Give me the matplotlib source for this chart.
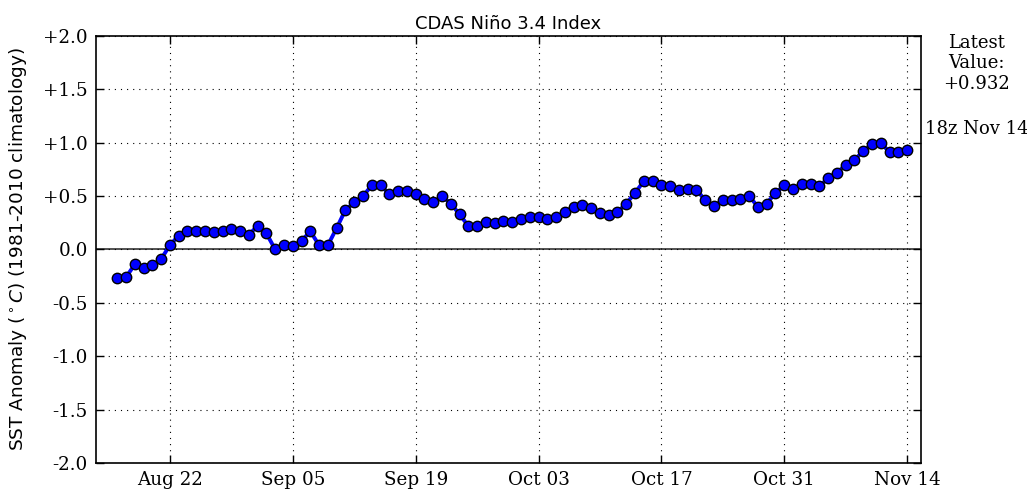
import matplotlib
matplotlib.use('Agg')
import matplotlib.pyplot as plt
import matplotlib.dates as mdates
import matplotlib.ticker as mticker
import pandas as pd

# daily CDAS Nino 3.4 SST anomaly, Aug 16 - Nov 14
dates = pd.date_range('2014-08-16', '2014-11-14', freq='D')
anom = [-0.27, -0.26, -0.14, -0.17, -0.15, -0.09, 0.04, 0.13, 0.17, 0.17,
        0.17, 0.16, 0.17, 0.19, 0.17, 0.14, 0.22, 0.15, 0.00, 0.04,
        0.03, 0.08, 0.17, 0.04, 0.04, 0.20, 0.37, 0.44, 0.50, 0.60,
        0.60, 0.52, 0.55, 0.55, 0.52, 0.47, 0.44, 0.50, 0.43, 0.33,
        0.22, 0.22, 0.26, 0.25, 0.27, 0.26, 0.29, 0.30, 0.30, 0.29,
        0.30, 0.35, 0.40, 0.42, 0.39, 0.34, 0.32, 0.35, 0.43, 0.53,
        0.64, 0.64, 0.60, 0.59, 0.56, 0.57, 0.56, 0.46, 0.41, 0.46,
        0.46, 0.47, 0.50, 0.40, 0.43, 0.53, 0.60, 0.57, 0.61, 0.61,
        0.59, 0.67, 0.72, 0.79, 0.84, 0.92, 0.99, 1.00, 0.91, 0.91,
        0.932]
xticks = pd.to_datetime(['2014-08-22', '2014-09-05', '2014-09-19', '2014-10-03',
                         '2014-10-17', '2014-10-31', '2014-11-14'])
yticks = [-2.0, -1.5, -1.0, -0.5, 0.0, 0.5, 1.0, 1.5, 2.0]

fig = plt.figure(figsize=(10.27, 4.93), dpi=100)
ax = fig.add_axes([0.0935, 0.061, 0.8033, 0.866])

ax.axhline(0, color='#333333', lw=1.2, zorder=1)
ax.plot(dates, anom, '-', color='blue', lw=2.8, marker='o', markersize=7.5,
        markerfacecolor='blue', markeredgecolor='black', markeredgewidth=1,
        zorder=3)

ax.set_xlim(pd.Timestamp('2014-08-13 14:00'), pd.Timestamp('2014-11-15 14:00'))
ax.set_ylim(-2, 2)
ax.set_xticks(xticks)
ax.xaxis.set_major_formatter(mdates.DateFormatter('%b %d'))
ax.set_yticks(yticks)
ax.yaxis.set_major_formatter(mticker.FuncFormatter(
    lambda v, p: ('+%.1f' % v) if v > 0 else ('%.1f' % v).replace('\u2212', '-')))

ax.grid(True, color='black', linestyle=(0, (1, 4.5)), lw=0.8)
ax.tick_params(direction='in', top=True, right=True, length=6, width=1,
               labelsize=13.2, pad=6)
for lab in ax.get_xticklabels() + ax.get_yticklabels():
    lab.set_family('DejaVu Serif')
for s in ax.spines.values():
    s.set_linewidth(1.2)

ax.set_title('CDAS Ni\u00f1o 3.4 Index', fontsize=13, pad=5)
ax.set_ylabel(r'SST Anomaly ($^\circ C$) (1981-2010 climatology)', fontsize=13.3,
              labelpad=10)

fig.text(0.951, 0.932, 'Latest\nValue:\n+0.932', ha='center', va='top',
         family='DejaVu Serif', fontsize=13, linespacing=1.2)
fig.text(0.951, 0.738, '18z Nov 14', ha='center', va='center',
         family='DejaVu Serif', fontsize=13)

fig.savefig('out.png', dpi=100)
